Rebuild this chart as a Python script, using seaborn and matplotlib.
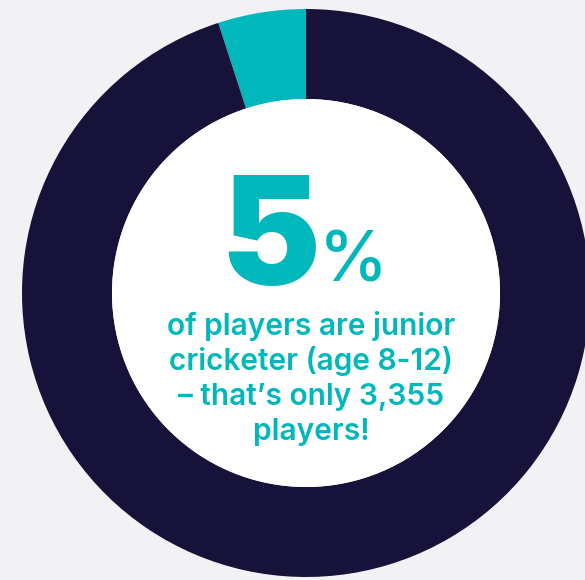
import matplotlib
matplotlib.use("Agg")
import matplotlib.pyplot as plt
from matplotlib.patches import Circle
import seaborn as sns

# ---- data ----
categories = ["Junior cricketers (age 8-12)", "Other players"]
shares = [5, 95]
colors = ["#00b8bb", "#16123a"]
big_number = "5"
unit = "%"
caption_lines = [
    "of players are junior",
    "cricketer (age 8-12)",
    "– that’s only 3,355",
    "players!",
]

BG = "#f2f2f5"
TEAL = "#00b8bb"

sns.set_theme(style="white")
plt.rcParams["font.family"] = ["Inter", "DejaVu Sans"]

W, H = 585, 580
fig = plt.figure(figsize=(W / 100, H / 100), dpi=100)
fig.patch.set_facecolor(BG)

# donut centre (306, 293) px from top-left, outer radius 284 px
cx, cy, R = 306, 293, 284
ax = fig.add_axes([(cx - R) / W, (H - cy - R) / H, 2 * R / W, 2 * R / H])
ax.set_facecolor(BG)
ax.pie(shares, colors=colors, startangle=90, counterclock=True, radius=1,
       wedgeprops=dict(width=1 - 194 / 284, linewidth=0))
ax.add_patch(Circle((0, 0), 194 / 284, facecolor="white", edgecolor="none", zorder=5))
ax.set_xlim(-1, 1)
ax.set_ylim(-1, 1)
ax.set_aspect("equal")
ax.axis("off")

def px(x, y):
    return x / W, (H - y) / H

fig.text(*px(270, 285), big_number, color=TEAL, fontsize=108, fontweight="black",
         ha="center", va="baseline", zorder=10)
fig.text(*px(353, 281), unit, color=TEAL, fontsize=50, fontweight="medium",
         ha="center", va="baseline", zorder=10)

baselines = [335, 370, 405, 440]
for line, b in zip(caption_lines, baselines):
    fig.text(*px(311, b), line, color=TEAL, fontsize=21.5, fontweight="semibold",
             ha="center", va="baseline", zorder=10)

fig.savefig("out.png", dpi=100, facecolor=BG)
